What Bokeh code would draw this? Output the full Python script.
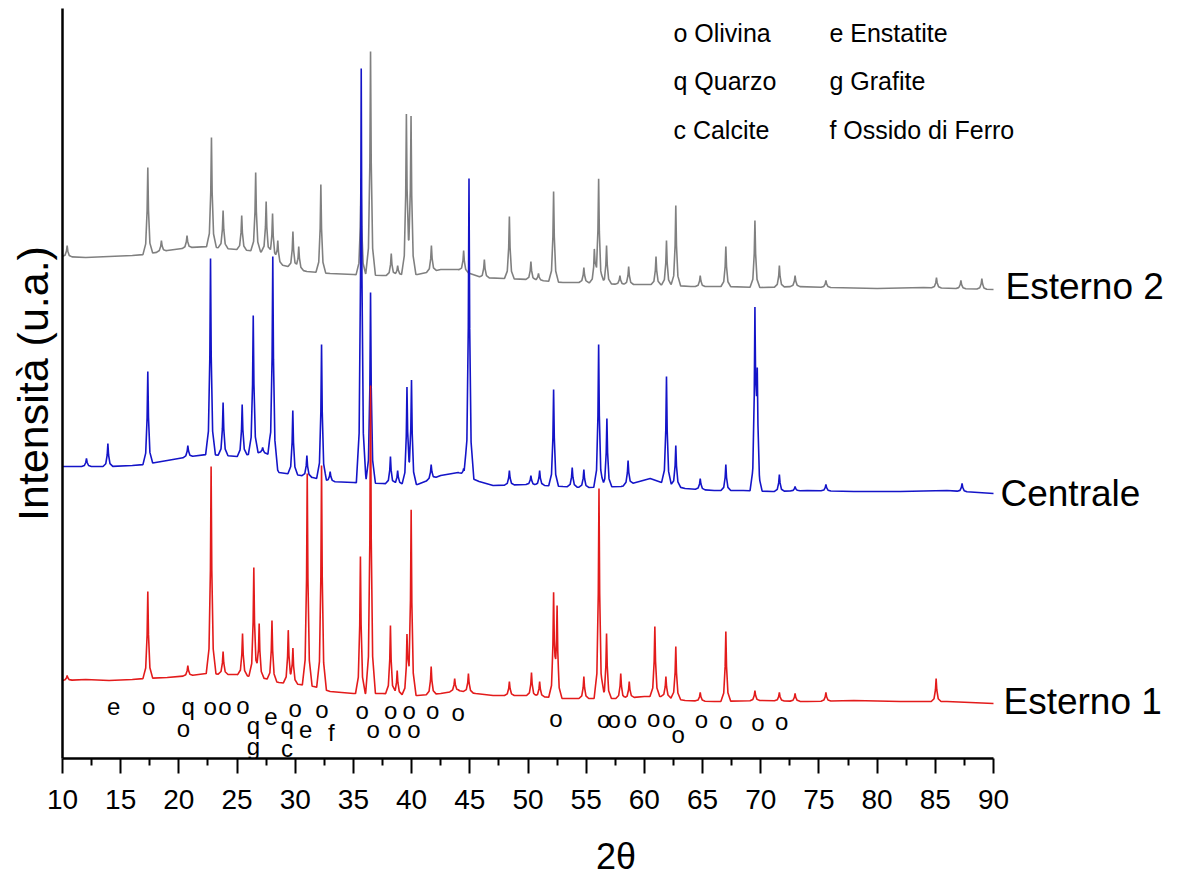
import numpy as np
from bokeh.plotting import figure
from bokeh.models import Range1d, FixedTicker
from bokeh.core.properties import value
from bokeh.embed import file_html
from bokeh.resources import INLINE

# ---------------- data (2theta, intensity in arbitrary units) ----------------
# Esterno 2 (grey)
e2_base_x = [10, 12, 14, 16, 17, 19, 21, 22.5, 24, 26, 27.5, 28.7, 31, 33, 35, 37.5, 40.5, 42.5, 44, 46,
             48, 50, 53, 55, 58, 61, 64, 67, 70, 73, 76, 80, 84, 87, 90]
e2_base_y = [502, 501, 502, 503, 504, 508, 511, 512, 510, 508, 506, 494, 487, 485, 484, 483, 484, 489, 489, 481,
             480, 479, 476, 476, 474, 474, 472, 472, 471, 472, 471, 470, 471, 470, 469]
e2_peak_x = [10.4, 17.33, 18.5, 20.7, 22.8, 23.8, 25.4, 26.6, 27.5, 28.05, 28.5, 29.8, 30.3, 32.2, 35.65,
             36.47, 38.25, 38.8, 39.55, 39.95, 41.7, 44.47, 46.25, 48.4, 50.25, 50.9, 52.2, 54.8, 55.7, 56.07,
             56.75, 57.9, 58.65, 61.0, 61.9, 62.7, 64.8, 67.0, 69.5, 71.6, 72.95, 75.6, 85.1, 87.2, 89.0]
e2_peak_y = [513, 591, 518, 523, 621, 548, 543, 586, 557, 545, 518, 527, 512, 574, 580,
             707, 505, 493, 643, 641, 513, 508, 499, 542, 497, 485, 567, 491, 507, 579,
             513, 483, 492, 502, 518, 553, 483, 512, 538, 493, 483, 478, 481, 478, 480]

# Centrale (blue)
ce_base_x = [10, 12, 14, 16, 17, 19, 21, 22.4, 24, 25, 26, 27, 27.8, 28.6, 30.5, 31.5, 33, 35, 37.5, 40.5,
             42.5, 44, 45.8, 47, 50, 53, 55, 58, 60.5, 61.5, 63.5, 66, 68.5, 71, 74, 78, 82, 86, 90]
ce_base_y = [292, 292, 292, 293, 294, 298, 302, 304, 303, 302, 304, 306, 304, 286, 283, 281, 277, 276, 275, 274,
             283, 286, 277, 273, 274, 272, 271, 272, 280, 276, 270, 268, 268, 267, 268, 267, 267, 268, 265]
ce_peak_x = [12.06, 13.9, 17.33, 20.77, 22.72, 23.8, 25.44, 26.39, 27.2, 28.07, 29.79, 31.0, 32.26, 33.0,
             35.67, 36.47, 38.18, 38.8, 39.6, 39.99, 41.68, 44.47, 44.93, 48.4, 50.25, 51.0, 52.2, 53.8,
             54.8, 56.07, 56.78, 58.6, 61.9, 62.7, 64.8, 67.0, 69.5, 69.7, 71.6, 72.95, 75.6, 87.3]
ce_peak_y = [300, 315, 387, 313, 500, 356, 354, 443, 311, 502, 348, 303, 414, 287,
             690, 466, 302, 288, 370, 377, 294, 290, 580, 288, 283, 288, 369, 291,
             289, 414, 340, 298, 382, 313, 280, 294, 440, 372, 284, 272, 274, 275]

# Esterno 1 (red)
e1_base_x = [10, 12, 14, 16, 17, 19, 21, 22.4, 24, 25, 27.4, 28.6, 30.4, 31.6, 33, 35, 37.5, 40.5, 42.5, 44,
             45.5, 47, 50, 53, 55, 58, 60, 61.5, 63.5, 66, 70, 74, 78, 82, 86, 90]
e1_base_y = [78, 79, 78, 79, 80, 81, 83, 85, 84, 84, 80, 76, 74, 72, 67, 65, 65, 63, 65, 68,
             65, 63, 63, 60, 60, 60, 62, 62, 58, 57, 58, 57, 58, 57, 57, 55]
e1_peak_x = [10.4, 17.33, 20.77, 22.77, 23.8, 25.47, 26.44, 26.9, 28.0, 29.4, 29.8, 31.03, 32.26, 35.6,
             36.47, 38.18, 38.76, 39.6, 39.96, 41.68, 43.7, 44.88, 48.4, 50.3, 51.0, 52.2, 52.5, 54.8,
             56.1, 56.75, 57.97, 58.7, 60.9, 61.85, 62.7, 64.8, 67.0, 69.5, 71.6, 72.95, 75.6, 85.07]
e1_peak_y = [83, 167, 93, 292, 107, 125, 191, 135, 138, 128, 110, 285, 293, 202,
             373, 133, 88, 119, 247, 92, 80, 85, 77, 86, 77, 161, 147, 82,
             270, 125, 85, 77, 132, 82, 112, 66, 127, 68, 66, 65, 66, 80]

# phase markers below the bottom pattern
mk_text = ["e", "o", "q", "o", "o", "o", "e", "o", "o", "o", "o", "o", "o", "o",
           "o", "o", "o", "o", "o", "o", "o", "o", "o", "o", "o",
           "o", "q", "q", "e", "f", "o", "o", "o",
           "g", "c"]
mk_x = [14.4, 17.4, 20.8, 22.7, 23.95, 25.5, 27.9, 30.0, 32.3, 35.75, 38.2, 39.8, 41.8, 44.0,
        52.4, 56.5, 57.4, 58.8, 60.8, 62.1, 62.9, 64.9, 67.0, 69.75, 71.8,
        20.4, 26.4, 29.3, 30.9, 33.1, 36.7, 38.55, 40.2,
        26.4, 29.3]
mk_y = [52, 52, 52, 52, 52, 53, 42, 50, 49, 48, 48, 48, 48, 46,
        40, 39, 39, 39, 40, 39, 24, 39, 38, 36, 37,
        30, 33, 33, 29, 26, 29, 29, 29,
        12, 10]

legend_text = ["o Olivina", "q Quarzo", "c Calcite", "e Enstatite", "g Grafite", "f Ossido di Ferro"]
legend_x = [62.5, 62.5, 62.5, 75.9, 75.9, 75.9]
legend_y = [726, 678, 629, 726, 678, 629]

series_names = ["Esterno 2", "Centrale", "Esterno 1"]
series_label_x = [91.03, 90.6, 90.86]
series_label_y = [472, 265, 57]
series_colors = ["#808080", "#1414c8", "#e31b1b"]

x_major = list(range(10, 95, 5))
x_minor = [v + 2.5 for v in range(10, 90, 5)]

y_title = "Intensità (u.a.)"
x_title = "2θ"

assert len(e2_base_x) == len(e2_base_y) and len(e2_peak_x) == len(e2_peak_y)
assert len(ce_base_x) == len(ce_base_y) and len(ce_peak_x) == len(ce_peak_y)
assert len(e1_base_x) == len(e1_base_y) and len(e1_peak_x) == len(e1_peak_y)
assert len(mk_text) == len(mk_x) == len(mk_y)


def build(base_x, base_y, peak_x, peak_y):
    """Polyline: baseline knots + each read peak drawn as a narrow spike."""
    offs = np.array([-0.42, -0.18, -0.06, 0.0, 0.06, 0.18, 0.42])
    frac = np.array([0.0, 0.12, 0.5, 1.0, 0.5, 0.12, 0.0])
    grid = set(float(v) for v in base_x)
    for px in peak_x:
        grid.update(np.round(px + offs, 4).tolist())
    xs = np.array(sorted(grid))
    xs = xs[(xs >= 10) & (xs <= 90)]
    ys = np.interp(xs, base_x, base_y)
    add = np.zeros_like(xs)
    for px, py in zip(peak_x, peak_y):
        amp = py - np.interp(px, base_x, base_y)
        add += amp * np.interp(xs - px, offs, frac)
    return xs, ys + add


PX_PER_UNIT = 931 / 80.0
FRAME_W = 1107
FRAME_H = 750

p = figure(frame_width=FRAME_W, frame_height=FRAME_H,
           x_range=Range1d(10, 10 + FRAME_W / PX_PER_UNIT), y_range=Range1d(0, 750),
           output_backend="svg", toolbar_location=None,
           min_border_left=62, min_border_top=8, min_border_right=0, min_border_bottom=122)
p.outline_line_color = None
p.xgrid.visible = False
p.ygrid.visible = False
p.background_fill_color = "white"
p.border_fill_color = "white"

FONT = "Liberation Sans"

for (bx, by, pkx, pky), col in zip(
        [(e2_base_x, e2_base_y, e2_peak_x, e2_peak_y),
         (ce_base_x, ce_base_y, ce_peak_x, ce_peak_y),
         (e1_base_x, e1_base_y, e1_peak_x, e1_peak_y)], series_colors):
    xs, ys = build(bx, by, pkx, pky)
    p.line(xs, ys, line_color=col, line_width=1.6)

# series names
p.text(x=series_label_x, y=series_label_y, text=series_names, text_font=value(FONT),
       text_font_size="37px", text_color="black", text_baseline="middle", text_align="left")

# legend of phases
p.text(x=legend_x, y=legend_y, text=legend_text, text_font=value(FONT),
       text_font_size="25px", text_color="black", text_baseline="middle", text_align="left")

# phase markers
p.text(x=mk_x, y=mk_y, text=mk_text, text_font=value(FONT),
       text_font_size="24px", text_color="black", text_baseline="middle", text_align="center")

# x axis
xa = p.xaxis[0]
xa.ticker = FixedTicker(ticks=x_major, minor_ticks=x_minor)
xa.bounds = (10, 90)
xa.axis_line_width = 2.5
xa.axis_line_color = "black"
xa.major_tick_line_width = 2
xa.minor_tick_line_width = 2
xa.major_tick_line_color = "black"
xa.minor_tick_line_color = "black"
xa.major_tick_in = 0
xa.minor_tick_in = 0
xa.major_tick_out = 15
xa.minor_tick_out = 7
xa.major_label_text_font = FONT
xa.major_label_text_font_size = "28px"
xa.major_label_text_color = "black"
xa.major_label_standoff = 16
xa.axis_label = x_title
xa.axis_label_text_font = FONT
xa.axis_label_text_font_size = "36px"
xa.axis_label_text_font_style = "normal"
xa.axis_label_text_color = "black"
xa.axis_label_standoff = 24

# y axis: line and title only
ya = p.yaxis[0]
ya.ticker = FixedTicker(ticks=[])
ya.major_tick_out = 0
ya.major_tick_in = 0
ya.minor_tick_out = 0
ya.minor_tick_in = 0
ya.major_label_standoff = 0
ya.major_label_text_color = None
ya.axis_line_width = 2.5
ya.axis_line_color = "black"
ya.axis_label = y_title
ya.axis_label_text_font = FONT
ya.axis_label_text_font_size = "43px"
ya.axis_label_text_font_style = "normal"
ya.axis_label_text_color = "black"
ya.axis_label_standoff = 6

open("out.html", "w").write(file_html(p, INLINE))
